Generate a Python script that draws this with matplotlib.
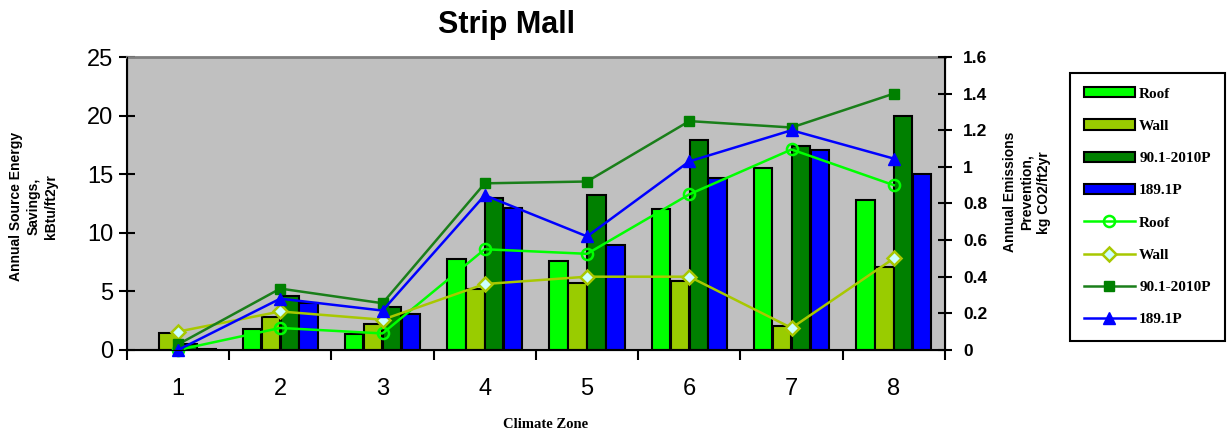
import matplotlib.pyplot as plt
import numpy as np
from matplotlib.ticker import MultipleLocator, FixedLocator

# climate zones
zones = [1, 2, 3, 4, 5, 6, 7, 8]

# energy savings, kBtu/ft2yr (bars, left axis)
roof_energy = [0.0, 1.8, 1.35, 7.8, 7.55, 12.0, 15.55, 12.8]
wall_energy = [1.45, 2.85, 2.2, 5.2, 5.7, 5.85, 2.0, 7.1]
std901_energy = [0.5, 4.6, 3.65, 13.0, 13.2, 17.9, 17.4, 19.95]
std189_energy = [0.1, 4.0, 3.05, 12.1, 8.95, 14.7, 17.1, 15.0]

# emissions prevention, kg CO2/ft2yr (lines, right axis)
roof_co2 = [0.0, 0.12, 0.09, 0.55, 0.525, 0.85, 1.095, 0.90]
wall_co2 = [0.10, 0.21, 0.165, 0.36, 0.40, 0.40, 0.12, 0.50]
std901_co2 = [0.03, 0.335, 0.255, 0.91, 0.92, 1.25, 1.215, 1.40]
std189_co2 = [0.0, 0.28, 0.215, 0.845, 0.62, 1.03, 1.20, 1.045]

labels = ["Roof", "Wall", "90.1-2010P", "189.1P"]
bar_colors = ["#00FF00", "#99CC00", "#008000", "#0000FF"]
line_colors = ["#00FF00", "#A8C800", "#1A7F1A", "#0000FF"]

plt.rcParams['font.family'] = ['Liberation Sans', 'DejaVu Sans']

fig = plt.figure(figsize=(12.32, 4.32), dpi=100)
ax = fig.add_axes([0.103, 0.19, 0.664, 0.678])
ax.set_facecolor("#C0C0C0")

x = np.array(zones, dtype=float)
w = 0.18
step = 0.185
series = [roof_energy, wall_energy, std901_energy, std189_energy]
bar_handles = []
for i, (vals, c, lab) in enumerate(zip(series, bar_colors, labels)):
    h = ax.bar(x + (i - 1.5) * step, vals, width=w, color=c, edgecolor="black",
               linewidth=1.5, label=lab, zorder=2)
    bar_handles.append(h)

ax.set_xlim(0.5, 8.5)
ax.set_ylim(0, 25)
ax.yaxis.set_major_locator(MultipleLocator(5))
ax.set_xticks(zones)
ax.xaxis.set_minor_locator(FixedLocator(np.arange(0.5, 9, 1.0)))
ax.tick_params(axis='x', which='major', length=0, labelsize=17, pad=20)
ax.tick_params(axis='x', which='minor', direction='out', length=7, width=1.5)
ax.tick_params(axis='y', direction='inout', length=12, width=1.5, labelsize=17, pad=4)
ax.spines['top'].set_color("#808080")
ax.spines['top'].set_linewidth(2)
for s in ['left', 'bottom']:
    ax.spines[s].set_linewidth(1.5)

ax2 = ax.twinx()
ax2.set_ylim(0, 1.6)
ax2.set_yticks(np.arange(0, 1.61, 0.2))
ax2.set_yticklabels(["0", "0.2", "0.4", "0.6", "0.8", "1", "1.2", "1.4", "1.6"],
                    fontweight='bold')
ax2.tick_params(axis='y', direction='inout', length=10, width=1.5, labelsize=12.5, pad=8)
ax2.spines['right'].set_linewidth(1.5)
ax2.spines['top'].set_visible(False)

line_series = [roof_co2, wall_co2, std901_co2, std189_co2]
markers = [
    dict(marker='o', markerfacecolor='none', markeredgecolor=line_colors[0], markersize=8, markeredgewidth=1.8),
    dict(marker='D', markerfacecolor='#CCFFFF', markeredgecolor=line_colors[1], markersize=7, markeredgewidth=1.8),
    dict(marker='s', markerfacecolor='#008000', markeredgecolor='#008000', markersize=7),
    dict(marker='^', markerfacecolor='#0000FF', markeredgecolor='#0000FF', markersize=8),
]
line_handles = []
for vals, c, lab, m in zip(line_series, line_colors, labels, markers):
    ln, = ax2.plot(x, vals, color=c, linewidth=1.8, label=lab, clip_on=False, **m)
    line_handles.append(ln)

fig.text(0.4115, 0.942, "Strip Mall", ha='center', va='center', fontsize=22, fontweight='bold')
fig.text(0.4425, 0.018, "Climate Zone", ha='center', va='center', fontsize=10.5,
         fontweight='bold', family=['Liberation Serif', 'DejaVu Serif'])
fig.text(0.027, 0.523, "Annual Source Energy\nSavings,\nkBtu/ft2yr", rotation=90,
         ha='center', va='center', fontsize=10, fontweight='bold',
         multialignment='center', linespacing=1.3)
fig.text(0.8335, 0.555, "Annual Emissions\nPrevention,\nkg CO2/ft2yr", rotation=90,
         ha='center', va='center', fontsize=10, fontweight='bold',
         multialignment='center', linespacing=1.3)

leg = fig.legend(bar_handles + line_handles, labels + labels, loc='upper left',
                 bbox_to_anchor=(0.8685, 0.831), frameon=True, fancybox=False,
                 edgecolor='black', framealpha=1,
                 prop={'family': 'Liberation Serif', 'weight': 'bold', 'size': 11},
                 handlelength=3.3, handleheight=0.65, labelspacing=1.23,
                 handletextpad=0.3, borderpad=0.93, borderaxespad=0)
leg.get_frame().set_linewidth(1.5)

fig.savefig("out.png", dpi=100)
